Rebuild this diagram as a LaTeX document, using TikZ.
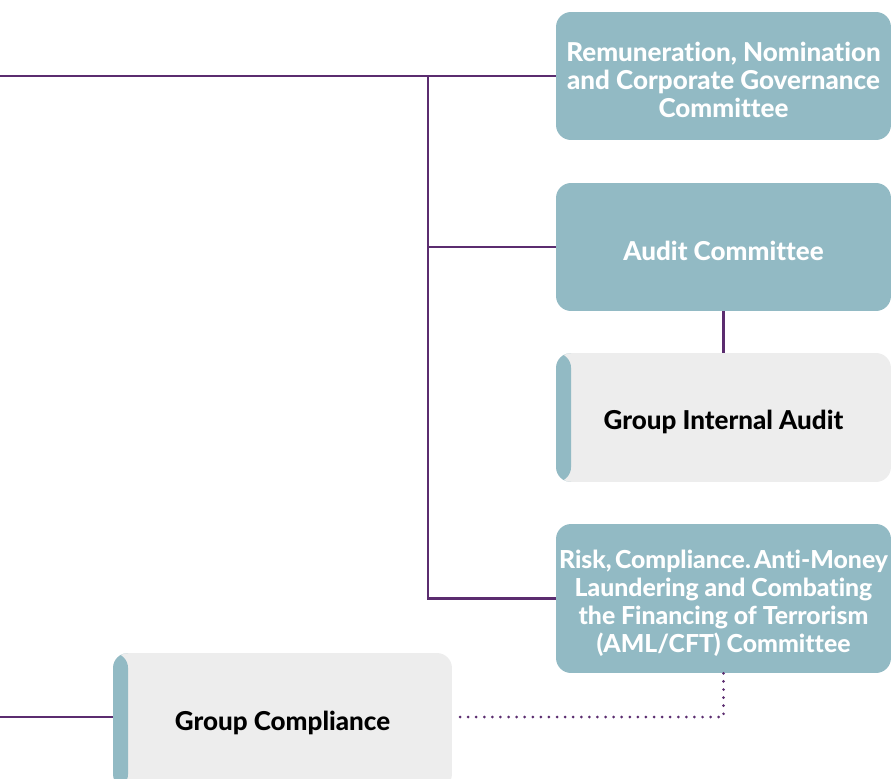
\documentclass[tikz,border=0pt]{standalone}
\usepackage{fontspec}
\setmainfont{Lato}[BoldFont={Lato Heavy},Ligatures=NoCommon]
\definecolor{boardteal}{HTML}{92BAC4}
\definecolor{unitgrey}{HTML}{EDEDED}
\definecolor{linepurple}{HTML}{5B2C6F}
\begin{document}
\begin{tikzpicture}[x=0.02cm,y=-0.02cm,
  committee/.style={fill=boardteal,rounded corners=0.3cm,
    minimum width=6.7cm,minimum height=2.56cm,inner sep=0pt},
  unit/.style={fill=unitgrey,rounded corners=0.3cm,
    minimum width=6.7cm,minimum height=2.58cm,inner sep=0pt,
    path picture={\fill[boardteal] (path picture bounding box.north west)
      rectangle ([xshift=0.3cm]path picture bounding box.south west);}},
  boxtext/.style={font=\bfseries\fontsize{14.8}{15.9}\selectfont,align=center,inner sep=0pt},
  link/.style={draw=linepurple,line width=1.6pt},
  dotlink/.style={draw=linepurple,line width=1.7pt,line cap=round,
    dash pattern=on 0pt off 4.6pt}]
\useasboundingbox (0,0) rectangle (893,778);

% committees on the right
\node[committee] (rem) at (723.5,76) {};
\node[committee] (audit) at (723.5,247) {};
\node[unit] (gia) at (723.5,417.5) {};
\node[committee,minimum height=2.98cm] (risk) at (723.5,598.5) {};

% compliance unit
\node[unit,minimum width=6.78cm,minimum height=2.72cm] (gc) at (282.5,721) {};

% texts
\node[boxtext,text=white] (rem text) at ([yshift=-0.08cm]rem.center) {Remuneration, Nomination\\and Corporate Governance\\Committee};
\node[boxtext,text=white] (audit text) at ([yshift=-0.07cm]audit.center) {Audit Committee};
\node[boxtext] (gia text) at ([yshift=-0.08cm]gia.center) {Group Internal Audit};
\node[boxtext,text=white,font=\bfseries\fontsize{14.1}{15.9}\selectfont] (risk text) at ([yshift=-0.1cm]risk.center)
  {Risk,\hspace{0.13em}Compliance.\hspace{0.13em}Anti-Money\\Laundering and Combating\\the Financing of Terrorism\\(AML/CFT) Committee};
\node[boxtext] (gc text) at ([yshift=-0.03cm]gc.center) {Group Compliance};

% connectors
\coordinate (boardin) at (0,76);
\coordinate (spine) at (428,76);
\coordinate (gcin) at (0,717);
\draw[link] (boardin) -- (rem.west);
\draw[link] (spine) |- (risk.west);
\draw[link] (spine |- audit.west) -- (audit.west);
\draw[link] (audit.south) -- (gia.north);
\draw[link] (gcin) -- (gc.west |- gcin);
\draw[dotlink,shorten >=3pt] (risk.south) |- (gc.east |- gcin);
\end{tikzpicture}
\end{document}
